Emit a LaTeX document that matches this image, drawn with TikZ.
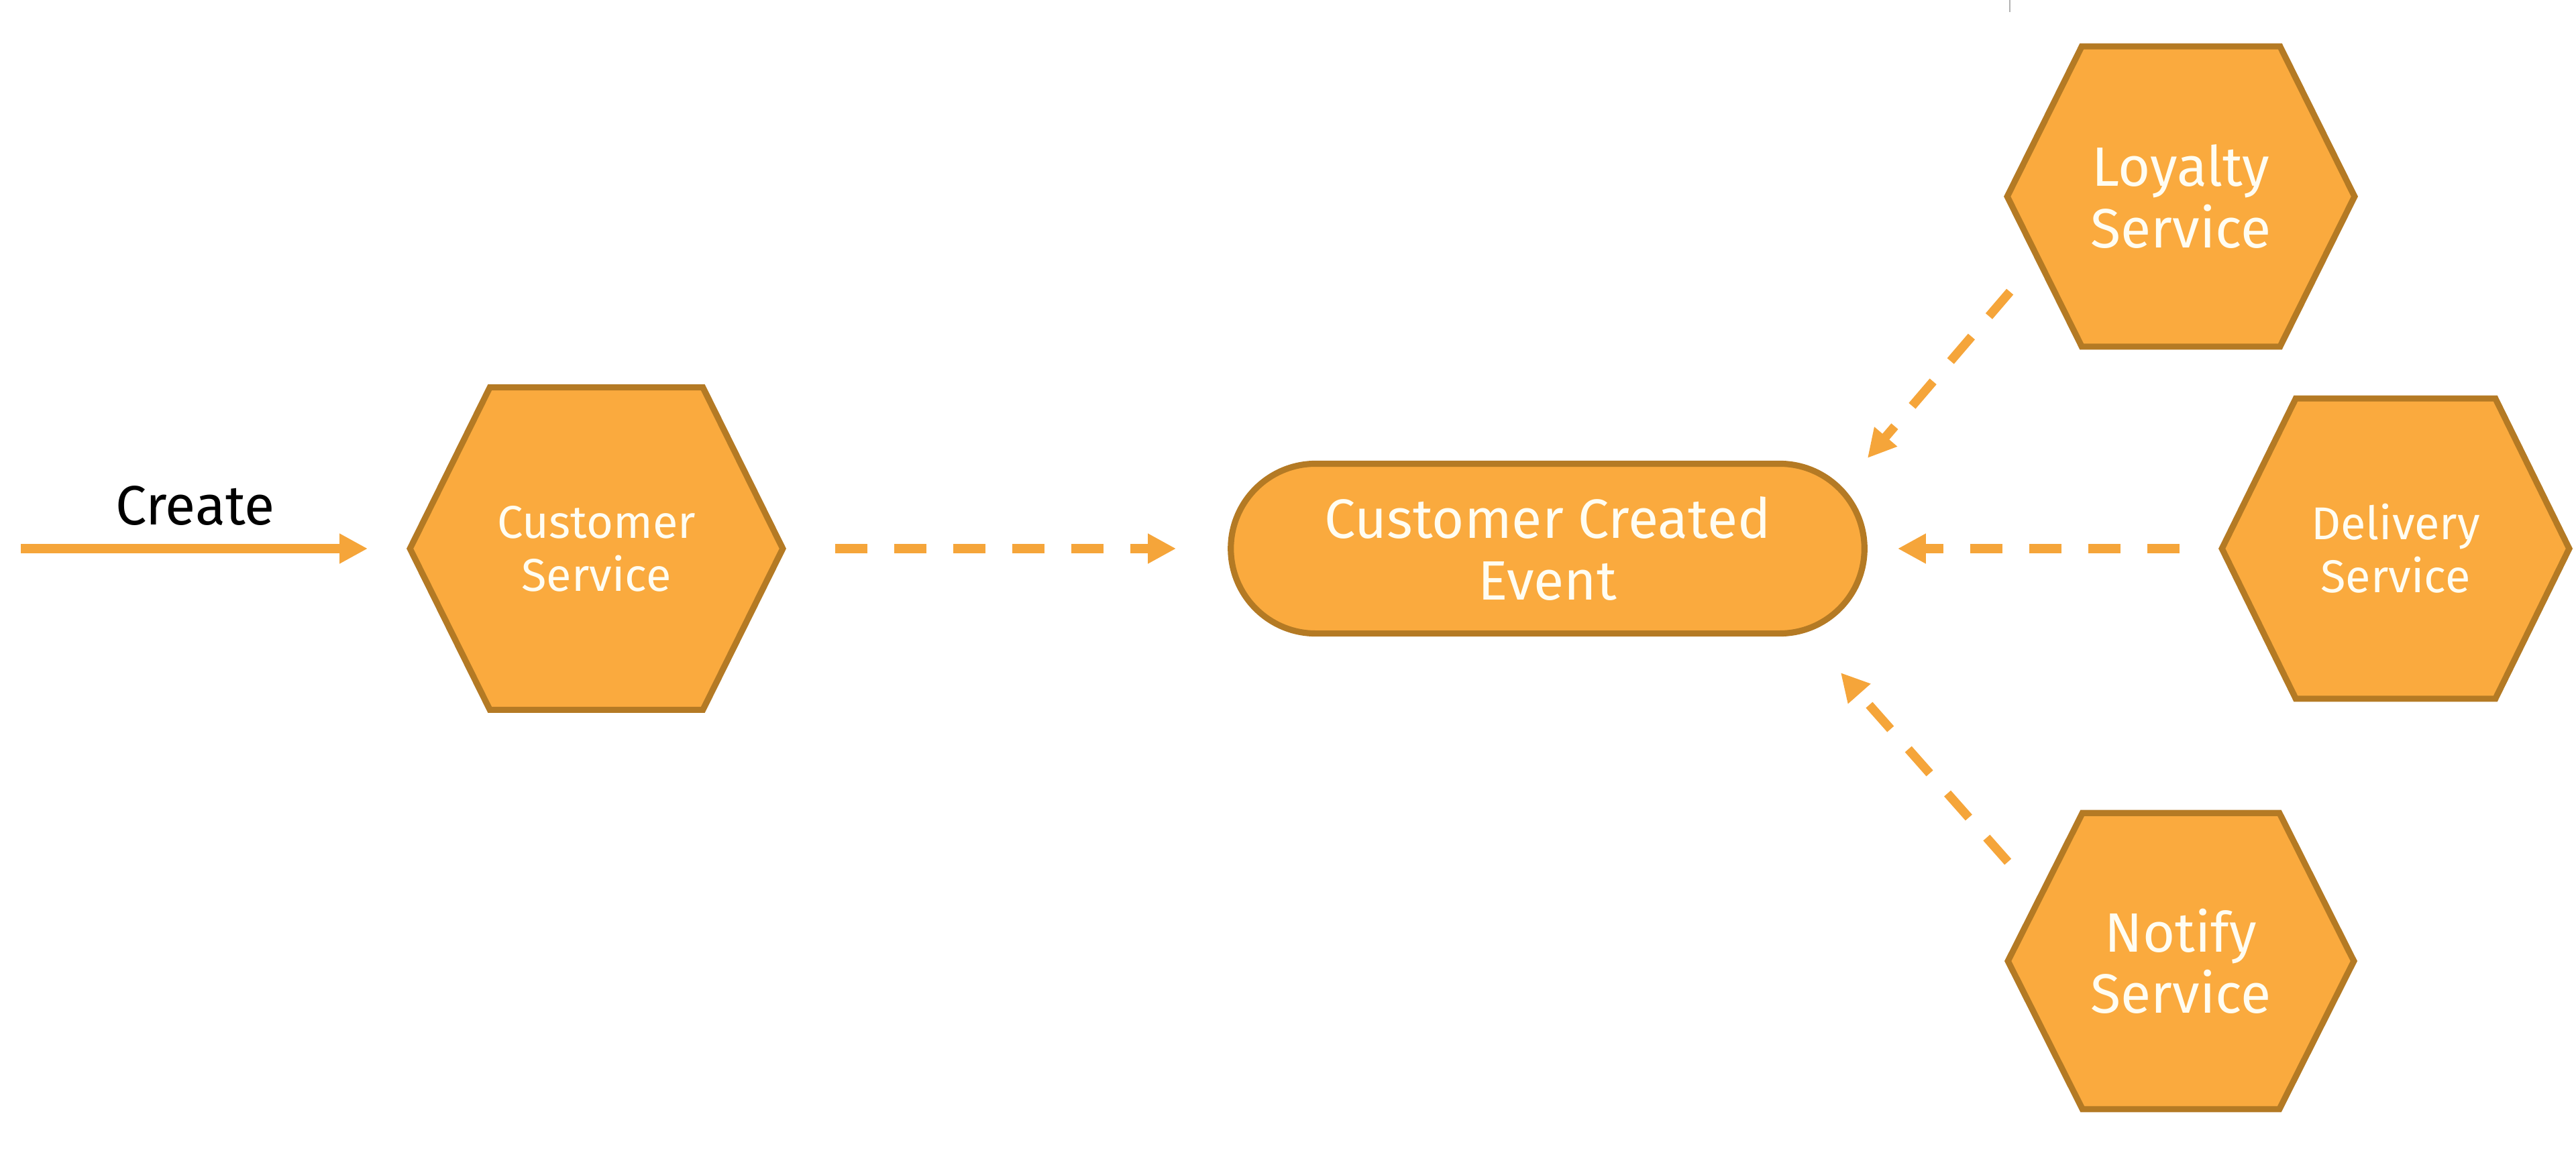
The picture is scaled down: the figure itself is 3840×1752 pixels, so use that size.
\documentclass[tikz,border=0pt]{standalone}
\usepackage{fontspec}
\setmainfont{Fira Sans}
\usetikzlibrary{arrows.meta,shapes.misc,backgrounds}
\definecolor{hexfill}{HTML}{FAAA3E}
\definecolor{hexline}{HTML}{B47A24}
\definecolor{arrowc}{HTML}{F5A53A}
\definecolor{txtc}{HTML}{FFFDF2}
\begin{document}
\begin{tikzpicture}[x=0.01cm,y=-0.01cm,
  svc/.style={shape=rectangle, inner sep=0pt, align=center, text=txtc},
  bigtxt/.style={font=\fontsize{23.5}{26}\selectfont},
  smalltxt/.style={font=\fontsize{19.5}{22.5}\selectfont},
  evt/.style={shape=rounded rectangle, draw=hexline, fill=hexfill, line width=2.6pt,
    minimum width=9.44cm, minimum height=2.53cm, inner sep=0pt, align=center, text=txtc},
  hexpath/.style={draw=hexline, fill=hexfill, line width=2.6pt, line join=miter},
  conn/.style={draw=arrowc, line width=3.8pt, -{Triangle[length=0.42cm,width=0.42cm]}},
  dashconn/.style={conn, dash pattern=on 0.48cm off 0.40cm}
]
\useasboundingbox (0,0) rectangle (3840,1752);

% nodes
\node[svc, smalltxt, minimum width=5.54cm, minimum height=4.79cm] (cs) at (889,818) {Customer\\Service};
\node[evt, bigtxt] (ev) at (2307,818) {Customer Created\\Event};
\node[svc, bigtxt, minimum width=5.16cm, minimum height=4.46cm] (loy) at (3251,293) {Loyalty\\Service};
\node[svc, smalltxt, minimum width=5.16cm, minimum height=4.46cm] (del) at (3571,818) {Delivery\\Service};
\node[svc, bigtxt, minimum width=5.14cm, minimum height=4.40cm] (not) at (3251,1433) {Notify\\Service};
\node[font=\fontsize{23.5}{26}\selectfont, text=black] (lbl) at (291,754) {Create};

% hexagon outlines behind the texts
\begin{scope}[on background layer]
  \foreach \n/\d in {cs/1.19cm, loy/1.11cm, del/1.10cm, not/1.11cm}{
    \path[hexpath] (\n.west) -- ([xshift=\d]\n.north west) -- ([xshift=-\d]\n.north east)
      -- (\n.east) -- ([xshift=-\d]\n.south east) -- ([xshift=\d]\n.south west) -- cycle;
  }
\end{scope}

% connectors
\coordinate (start) at (31,818);
\draw[conn, shorten >=0.63cm] (start) -- (cs.west);
\draw[dashconn, shorten <=0.78cm, shorten >=0.77cm] (cs.east) -- (ev.west);
\draw[dashconn, shorten <=0.63cm, shorten >=0.45cm] (del.west) -- (ev.east);
\draw[dashconn] ([shift={(4,142)}]loy.west) -- ([shift={(0,-135)}]ev.east);
\draw[dashconn] ([shift={(0,-148)}]not.west) -- ([shift={(-40,185)}]ev.east);

% small stray tick at the top
\draw[gray!60, line width=0.8pt] (2996,0) -- (2996,18);
\end{tikzpicture}
\end{document}
